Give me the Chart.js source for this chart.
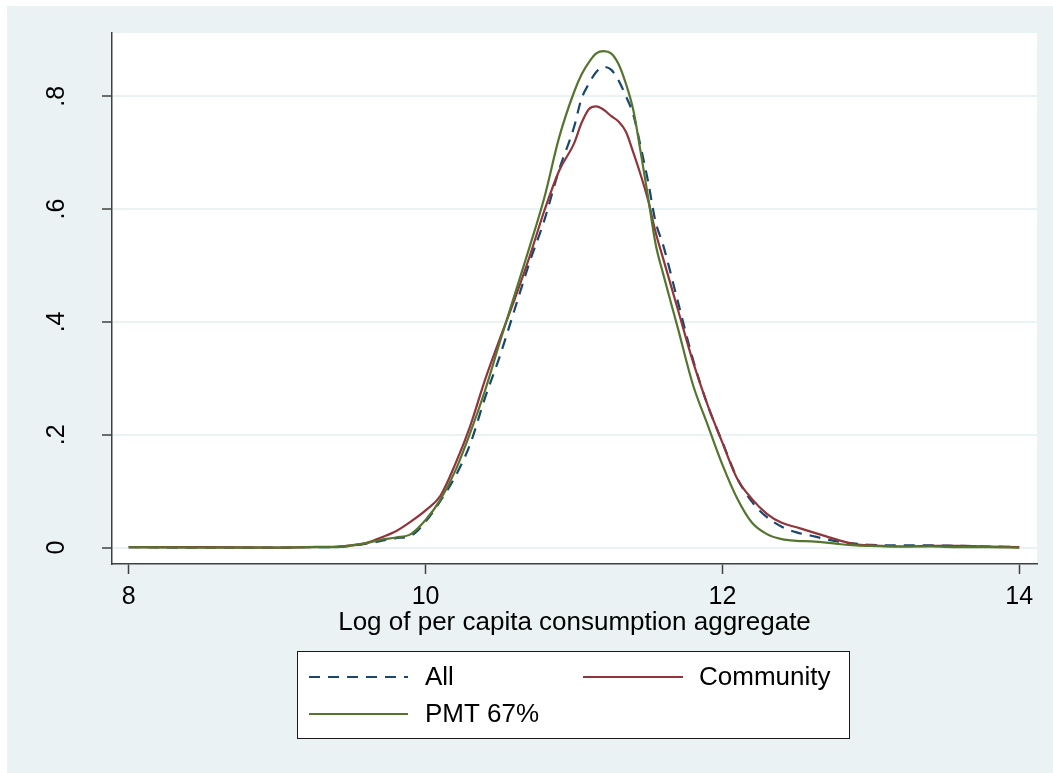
<!DOCTYPE html>
<html>
<head>
<meta charset="utf-8">
<script src="https://cdn.jsdelivr.net/npm/chart.js@4/dist/chart.umd.min.js"></script>
<style>
  html, body { margin: 0; padding: 0; background: #ffffff; }
  canvas { display: block; }
</style>
</head>
<body>
<canvas id="chart" width="1053" height="773"></canvas>
<script>
// log per capita consumption grid (x) and kernel densities
const xs = [8, 8.5, 9, 9.2, 9.4,
  9.5, 9.6, 9.7, 9.8, 9.9, 10, 10.1, 10.2, 10.3, 10.4, 10.5, 10.6, 10.7, 10.8, 10.9,
  11, 11.05, 11.1, 11.15, 11.2, 11.25, 11.3, 11.35, 11.4, 11.45, 11.5, 11.55,
  11.6, 11.7, 11.8, 11.9, 12, 12.1, 12.2, 12.3, 12.4, 12.5, 12.6, 12.7, 12.8, 12.9, 13,
  13.2, 13.4, 13.6, 13.8, 14];

const allValues = [0.001, 0.000, 0.000, 0.001, 0.001,
  0.003, 0.007, 0.012, 0.017, 0.021, 0.046, 0.083, 0.126, 0.183, 0.265, 0.339, 0.422, 0.505, 0.580, 0.670,
  0.745, 0.795, 0.822, 0.843, 0.852, 0.847, 0.828, 0.800, 0.767, 0.710, 0.648, 0.577,
  0.537, 0.436, 0.335, 0.253, 0.187, 0.123, 0.081, 0.054, 0.037, 0.027, 0.021, 0.015, 0.010, 0.007, 0.005,
  0.004, 0.004, 0.003, 0.002, 0.001];

const communityValues = [0.001, 0.001, 0.000, 0.001, 0.002,
  0.004, 0.008, 0.018, 0.029, 0.046, 0.066, 0.092, 0.148, 0.215, 0.297, 0.370, 0.440, 0.515, 0.597, 0.668,
  0.716, 0.752, 0.777, 0.782, 0.776, 0.765, 0.755, 0.737, 0.700, 0.660, 0.615, 0.559,
  0.513, 0.422, 0.331, 0.253, 0.186, 0.122, 0.086, 0.060, 0.044, 0.036, 0.028, 0.020, 0.012, 0.006, 0.004,
  0.002, 0.003, 0.003, 0.002, 0.001];

const pmtValues = [0.001, 0.000, 0.000, 0.001, 0.001,
  0.004, 0.008, 0.014, 0.018, 0.024, 0.049, 0.085, 0.136, 0.203, 0.278, 0.364, 0.448, 0.532, 0.620, 0.727,
  0.807, 0.838, 0.860, 0.876, 0.880, 0.876, 0.857, 0.822, 0.775, 0.700, 0.620, 0.538,
  0.486, 0.389, 0.290, 0.218, 0.147, 0.087, 0.044, 0.024, 0.015, 0.012, 0.011, 0.009, 0.006, 0.004, 0.003,
  0.002, 0.002, 0.001, 0.001, 0.000];

const seriesLabels = ["All", "Community", "PMT 67%"];
const xTicks = [8, 10, 12, 14];
const yTicks = [0, 0.2, 0.4, 0.6, 0.8];
const yTickLabels = ["0", ".2", ".4", ".6", ".8"];
const xTitle = "Log of per capita consumption aggregate";

const FONT = "'Liberation Sans', Arial, Helvetica, sans-serif";
const BG = "#EAF2F3";
const AXIS = "#404040";

const toPoints = (vals) => vals.map((v, i) => ({ x: xs[i], y: v }));

// stata style frame: light outer area, white plot region
const backgroundPlugin = {
  id: "stataBackground",
  beforeDraw(chart) {
    const { ctx, chartArea } = chart;
    ctx.save();
    ctx.fillStyle = "#ffffff";
    ctx.fillRect(0, 0, chart.width, chart.height);
    ctx.fillStyle = BG;
    ctx.fillRect(7, 6, chart.width - 7, chart.height - 6);
    ctx.fillStyle = "#ffffff";
    ctx.fillRect(chartArea.left, chartArea.top, chartArea.right - chartArea.left, chartArea.bottom - chartArea.top);
    ctx.restore();
  },
};

// two-column legend box under the axis title
const legendPlugin = {
  id: "boxLegend",
  afterDraw(chart) {
    const { ctx } = chart;
    const slots = [
      { x0: 309, x1: 408, tx: 425, y: 677 },
      { x0: 583, x1: 683, tx: 699, y: 677 },
      { x0: 309, x1: 408, tx: 425, y: 714 },
    ];
    ctx.save();
    ctx.fillStyle = "#ffffff";
    ctx.fillRect(297, 651, 552, 87);
    ctx.strokeStyle = "#1a1a1a";
    ctx.lineWidth = 1;
    ctx.strokeRect(297.5, 651.5, 552, 87);
    chart.data.datasets.forEach((ds, i) => {
      const s = slots[i];
      ctx.beginPath();
      ctx.strokeStyle = ds.borderColor;
      ctx.lineWidth = ds.borderWidth;
      ctx.setLineDash(ds.borderDash || []);
      ctx.moveTo(s.x0, s.y);
      ctx.lineTo(s.x1, s.y);
      ctx.stroke();
      ctx.setLineDash([]);
      ctx.fillStyle = "#000000";
      ctx.font = "26px " + FONT;
      ctx.textAlign = "left";
      ctx.textBaseline = "middle";
      ctx.fillText(ds.label, s.tx, s.y + 1);
    });
    ctx.restore();
  },
};

new Chart(document.getElementById("chart"), {
  type: "line",
  data: {
    datasets: [
      {
        label: seriesLabels[0],
        data: toPoints(allValues),
        borderColor: "#1A476F",
        borderWidth: 2.2,
        borderDash: [11, 8],
        order: 2,
      },
      {
        label: seriesLabels[1],
        data: toPoints(communityValues),
        borderColor: "#90353B",
        borderWidth: 2.2,
        order: 1,
      },
      {
        label: seriesLabels[2],
        data: toPoints(pmtValues),
        borderColor: "#55752F",
        borderWidth: 2.2,
        order: 0,
      },
    ],
  },
  options: {
    responsive: false,
    animation: false,
    devicePixelRatio: 1,
    layout: { padding: { left: 0, right: 16, top: 33, bottom: 135 } },
    elements: {
      point: { radius: 0 },
      line: { cubicInterpolationMode: "monotone", fill: false },
    },
    plugins: {
      legend: { display: false },
      tooltip: { enabled: false },
    },
    scales: {
      x: {
        type: "linear",
        min: 7.887,
        max: 14.12,
        afterBuildTicks: (scale) => { scale.ticks = xTicks.map((v) => ({ value: v })); },
        afterFit: (scale) => {
          scale.height = 74;
          scale.paddingLeft = 0;
          scale.paddingRight = 0;
        },
        border: { display: true, color: AXIS, width: 1.5 },
        grid: { drawOnChartArea: false, drawTicks: true, tickLength: 10, tickColor: AXIS, tickWidth: 1.5 },
        ticks: {
          autoSkip: false,
          maxRotation: 0,
          padding: 8,
          color: "#000000",
          font: { family: FONT, size: 25 },
          callback: (v) => String(v),
        },
        title: {
          display: true,
          text: xTitle,
          color: "#000000",
          font: { family: FONT, size: 26 },
          padding: { top: 0, bottom: 0 },
        },
      },
      y: {
        type: "linear",
        min: -0.029,
        max: 0.912,
        afterBuildTicks: (scale) => { scale.ticks = yTicks.map((v) => ({ value: v })); },
        afterFit: (scale) => {
          scale.width = 112;
          scale.paddingTop = 0;
          scale.paddingBottom = 0;
        },
        border: { display: true, color: AXIS, width: 1.5 },
        grid: { color: BG, lineWidth: 2, drawTicks: true, tickLength: 10, tickColor: AXIS, tickWidth: 1.5 },
        ticks: {
          autoSkip: false,
          minRotation: 90,
          maxRotation: 90,
          crossAlign: "center",
          padding: 34,
          color: "#000000",
          font: { family: FONT, size: 25 },
          callback: (v) => yTickLabels[yTicks.indexOf(v)],
        },
      },
    },
  },
  plugins: [backgroundPlugin, legendPlugin],
});
</script>
</body>
</html>
